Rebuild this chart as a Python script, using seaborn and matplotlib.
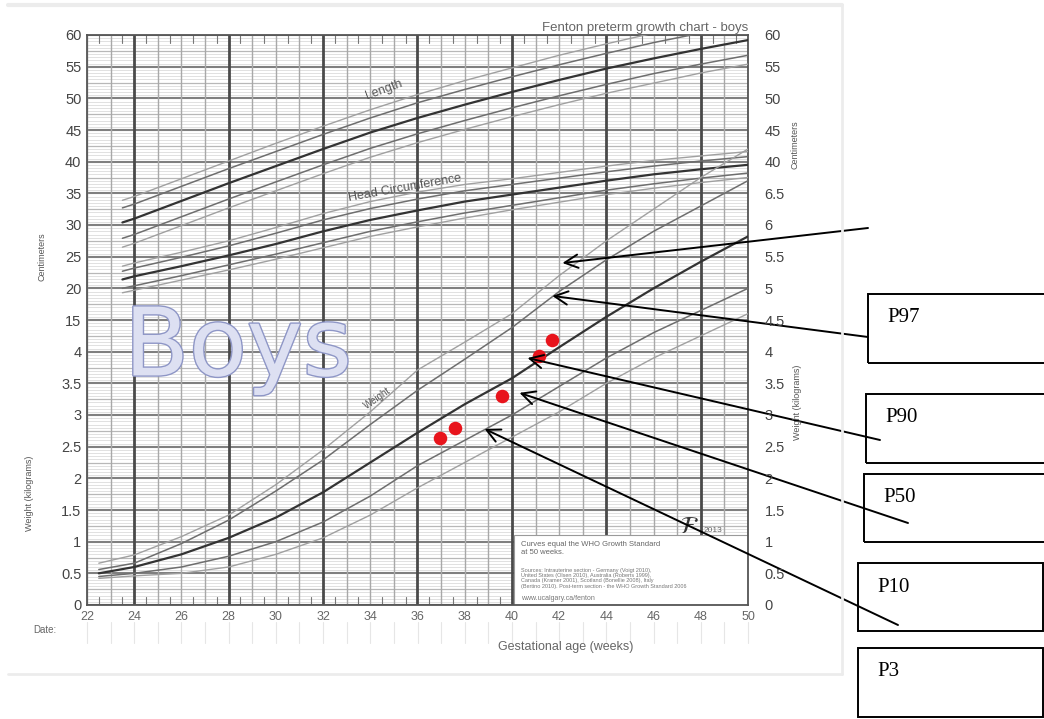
import numpy as np
import pandas as pd
import matplotlib.pyplot as plt
import matplotlib.patheffects as pe
from matplotlib.patches import Rectangle
from matplotlib.lines import Line2D
import seaborn as sns

# ---- curves ----
centiles = ['P3', 'P10', 'P50', 'P90', 'P97']

len_weeks = [23.5, 24, 26, 28, 30, 32, 34, 36, 38, 40, 42, 44, 46, 48, 50]
length_p3 = [26.5, 27.1, 29.9, 32.7, 35.4, 38.1, 40.7, 43.0, 45.1, 47.1, 49.0, 50.8, 52.4, 54.0, 55.4]
length_p10 = [27.9, 28.5, 31.3, 34.1, 36.8, 39.5, 42.1, 44.4, 46.5, 48.5, 50.4, 52.2, 53.9, 55.4, 56.8]
length_p50 = [30.4, 31.0, 33.8, 36.6, 39.3, 42.0, 44.6, 46.9, 49.0, 51.0, 52.9, 54.7, 56.3, 57.8, 59.2]
length_p90 = [32.7, 33.3, 36.1, 38.9, 41.6, 44.3, 46.9, 49.3, 51.4, 53.4, 55.3, 57.1, 58.8, 60.3, 61.7]
length_p97 = [33.9, 34.5, 37.3, 40.1, 42.9, 45.6, 48.2, 50.6, 52.8, 54.8, 56.8, 58.6, 60.3, 61.9, 63.4]

head_p3 = [19.3, 19.7, 21.3, 22.9, 24.6, 26.4, 28.2, 29.7, 31.1, 32.4, 33.6, 34.8, 35.8, 36.7, 37.5]
head_p10 = [20.0, 20.4, 22.0, 23.7, 25.4, 27.2, 29.0, 30.5, 31.9, 33.1, 34.3, 35.5, 36.5, 37.4, 38.2]
head_p50 = [21.4, 21.9, 23.5, 25.2, 27.0, 29.0, 30.8, 32.3, 33.7, 34.8, 35.9, 37.0, 38.0, 38.8, 39.5]
head_p90 = [22.7, 23.2, 24.9, 26.7, 28.7, 30.8, 32.6, 34.1, 35.4, 36.4, 37.4, 38.4, 39.3, 40.1, 40.8]
head_p97 = [23.5, 24.0, 25.7, 27.5, 29.6, 31.8, 33.7, 35.2, 36.4, 37.3, 38.3, 39.3, 40.2, 40.9, 41.6]

wt_weeks = [22.5, 24, 26, 28, 30, 32, 34, 36, 38, 40, 42, 44, 46, 48, 50]
weight_p3 = [0.42, 0.46, 0.50, 0.60, 0.80, 1.06, 1.42, 1.85, 2.25, 2.65, 3.05, 3.50, 3.90, 4.25, 4.60]
weight_p10 = [0.45, 0.50, 0.60, 0.77, 1.00, 1.31, 1.72, 2.20, 2.60, 3.00, 3.45, 3.90, 4.30, 4.65, 5.00]
weight_p50 = [0.50, 0.60, 0.80, 1.06, 1.38, 1.78, 2.25, 2.72, 3.17, 3.58, 4.07, 4.55, 5.00, 5.42, 5.82]
weight_p90 = [0.56, 0.66, 0.97, 1.34, 1.80, 2.29, 2.85, 3.39, 3.88, 4.38, 4.95, 5.45, 5.90, 6.30, 6.70]
weight_p97 = [0.66, 0.79, 1.08, 1.42, 1.90, 2.45, 3.05, 3.71, 4.15, 4.60, 5.20, 5.75, 6.25, 6.75, 7.20]

# baby's measurements (red dots)
dot_weeks = [36.97, 37.57, 39.6, 41.16, 41.7]
dot_kg = [2.64, 2.79, 3.30, 3.93, 4.18]

# arrows drawn on the chart: tip position in weeks / kg
arrow_weeks = [42.14, 41.71, 40.66, 40.32, 38.84]
arrow_kg = [5.40, 4.88, 3.90, 3.35, 2.78]
box_labels = ['P97', 'P90', 'P50', 'P10', 'P3']

left_labels = ['0', '0.5', '1', '1.5', '2', '2.5', '3', '3.5', '4',
               '15', '20', '25', '30', '35', '40', '45', '50', '55', '60']
right_labels = ['0', '0.5', '1', '1.5', '2', '2.5', '3', '3.5', '4', '4.5', '5', '5.5', '6', '6.5',
                '40', '45', '50', '55', '60']
x_labels = list(range(22, 51, 2))


# chart grid units: one unit = 5 cm or 0.5 kg
def cm_u(v):
    return np.array(v) / 5 + 6


def kg_u(v):
    return np.array(v) * 2


rows = []
for measure, wk, series, conv in [
        ('length', len_weeks, [length_p3, length_p10, length_p50, length_p90, length_p97], cm_u),
        ('head', len_weeks, [head_p3, head_p10, head_p50, head_p90, head_p97], cm_u),
        ('weight', wt_weeks, [weight_p3, weight_p10, weight_p50, weight_p90, weight_p97], kg_u)]:
    for cent, vals in zip(centiles, series):
        for w, u in zip(wk, conv(vals)):
            rows.append({'week': w, 'u': u, 'measure': measure, 'centile': cent})
curves = pd.DataFrame(rows)
dots = pd.DataFrame({'week': dot_weeks, 'u': kg_u(dot_kg)})

sns.set_theme(style='white')
plt.rcParams['font.family'] = ['Liberation Sans', 'DejaVu Sans']

W, H = 1044, 719
fig = plt.figure(figsize=(W / 100, H / 100), dpi=100)


def fx(x):
    return x / W


def fy(y):
    return 1 - y / H


ax = fig.add_axes([fx(87), fy(605), fx(748) - fx(87), fy(35) - fy(605)])
ax.set_xlim(22, 50)
ax.set_ylim(0, 18)

# grid
for k in range(0, 181):
    v = k / 10
    if k % 10 == 0:
        ax.axhline(v, color='#808080', lw=1.5, zorder=1)
    elif k % 5 == 0:
        ax.axhline(v, color='#b8b8b8', lw=0.9, zorder=0.8)
    else:
        ax.axhline(v, color='#d4d4d4', lw=0.5, zorder=0.5)
for w in range(22, 51):
    if w % 4 == 0:
        ax.axvline(w, color='#4a4a4a', lw=2.0, zorder=1.2)
    else:
        ax.axvline(w, color='#a8a8a8', lw=1.0, zorder=1.1)
# half-week ticks along bottom and top
for w in np.arange(22.5, 50, 1):
    ax.plot([w, w], [0, 0.25], color='#777', lw=0.8, zorder=1.3)
    ax.plot([w, w], [17.75, 18], color='#777', lw=0.8, zorder=1.3)

# info box (hides the grid)
ax.add_patch(Rectangle((40.1, 0), 9.9, 2.2, facecolor='white', edgecolor='#9a9a9a', lw=0.8, zorder=2))

palette = {'P3': '#a0a0a0', 'P10': '#6e6e6e', 'P50': '#333333', 'P90': '#6e6e6e', 'P97': '#a0a0a0'}
sizes = {'P3': 1.0, 'P10': 1.1, 'P50': 1.6, 'P90': 1.1, 'P97': 1.0}
sns.lineplot(data=curves, x='week', y='u', hue='centile', size='centile', units='measure',
             estimator=None, sort=False, palette=palette, sizes=sizes, legend=False, ax=ax, zorder=3)
sns.scatterplot(data=dots, x='week', y='u', color='#e8141c', s=95, linewidth=0, ax=ax, zorder=5)

# curve labels
ax.text(34.6, 16.26, 'Length', rotation=20, fontsize=9, color='#555', ha='center', va='center', zorder=4)
ax.text(35.45, 13.17, 'Head Circumference', rotation=10, fontsize=9, color='#555',
        ha='center', va='center', zorder=4)
ax.text(34.3, 6.54, 'Weight', rotation=35, fontsize=7, color='#555', ha='center', va='center', zorder=4)

boys = ax.text(28.4, 7.25, 'Boys', fontsize=68, color='#dde0f2', ha='center', va='baseline',
               family='DejaVu Sans', zorder=4)
boys.set_path_effects([pe.Stroke(linewidth=2.0, foreground='#8e96c6'), pe.Normal()])

# info box text
ax.text(40.4, 2.02, 'Curves equal the WHO Growth Standard\nat 50 weeks.', fontsize=5.5,
        color='#666', va='top', linespacing=1.1, zorder=4)
ax.text(40.4, 1.18, 'Sources: Intrauterine section - Germany (Voigt 2010),\n'
        'United States (Olsen 2010), Australia (Roberts 1999),\n'
        'Canada (Kramer 2001), Scotland (Bonellie 2008), Italy\n'
        '(Bertino 2010). Post-term section - the WHO Growth Standard 2006',
        fontsize=4, color='#777', va='top', linespacing=1.1, zorder=4)
ax.text(40.4, 0.22, 'www.ucalgary.ca/fenton', fontsize=5, color='#777', va='center', zorder=4)
ax.text(47.1, 2.45, r'$\mathcal{F}$', fontsize=17, color='#333', va='center', zorder=4)
ax.text(48.1, 2.35, '2013', fontsize=6, color='#666', va='center', zorder=4)

# axes cosmetics
for s in ax.spines.values():
    s.set_color('#555')
    s.set_linewidth(1.3)
ax.set_xlabel('')
ax.set_ylabel('')
ax.set_xticks(x_labels)
ax.set_xticklabels(x_labels, fontsize=9, color='#666')
ax.set_yticks(range(19))
ax.set_yticklabels(left_labels, fontsize=10.5, color='#444')
ax.tick_params(length=0, pad=4)

ax2 = ax.twinx()
ax2.set_ylim(0, 18)
ax2.set_yticks(range(19))
ax2.set_yticklabels(right_labels, fontsize=10.5, color='#444')
ax2.tick_params(length=0, pad=12)
for s in ax2.spines.values():
    s.set_visible(False)

# titles and side labels
fig.text(fx(748), fy(28), 'Fenton preterm growth chart - boys', fontsize=9.5, color='#666',
         ha='right', va='center')
fig.text(fx(42), fy(257), 'Centimeters', fontsize=6.5, color='#555', rotation=90, ha='center', va='center')
fig.text(fx(30), fy(493), 'Weight (kilograms)', fontsize=6.5, color='#555', rotation=90,
         ha='center', va='center')
fig.text(fx(795), fy(145), 'Centimeters', fontsize=6.5, color='#555', rotation=90, ha='center', va='center')
fig.text(fx(798), fy(402), 'Weight (kilograms)', fontsize=6.5, color='#555', rotation=90,
         ha='center', va='center')
fig.text(fx(566), fy(647), 'Gestational age (weeks)', fontsize=9, color='#666', ha='center', va='center')
fig.text(fx(33), fy(630), 'Date:', fontsize=7, color='#666', ha='left', va='center')
for w in range(22, 51):
    xp = 87 + (w - 22) * (748 - 87) / 28
    fig.add_artist(Line2D([fx(xp), fx(xp)], [fy(622), fy(643)], color='#e6e6e6', lw=0.8))

# faint frame of the pasted screenshot
fig.add_artist(Line2D([fx(8), fx(842)], [fy(5), fy(5)], color='#ececec', lw=3))
fig.add_artist(Line2D([fx(8), fx(842)], [fy(674), fy(674)], color='#ececec', lw=2))
fig.add_artist(Line2D([fx(842), fx(842)], [fy(5), fy(674)], color='#ececec', lw=2))

# arrows and percentile boxes
tails = [(868, 228), (868, 337), (880, 440), (908, 523), (898, 625)]
for w, kg, (tx, ty) in zip(arrow_weeks, arrow_kg, tails):
    ax.annotate('', xy=(w, kg * 2), xycoords='data', xytext=(fx(tx), fy(ty)),
                textcoords='figure fraction', annotation_clip=False, zorder=6,
                arrowprops=dict(arrowstyle='->', color='black', lw=1.4, mutation_scale=24,
                                shrinkA=0, shrinkB=0))

boxes = [(868, 294, 1050, 363), (866, 394, 1050, 463), (864, 474, 1050, 542),
         (858, 563, 1043, 631), (858, 648, 1043, 717)]
for lab, (x0, y0, x1, y1) in zip(box_labels, boxes):
    fig.add_artist(Rectangle((fx(x0), fy(y1)), fx(x1) - fx(x0), fy(y0) - fy(y1), fill=False,
                             edgecolor='black', lw=1.4, transform=fig.transFigure))
    fig.text(fx(x0 + 19), fy(y0 + 24), lab, fontsize=15, family='Liberation Serif', color='black',
             ha='left', va='center')

fig.savefig('out.png', dpi=100)
